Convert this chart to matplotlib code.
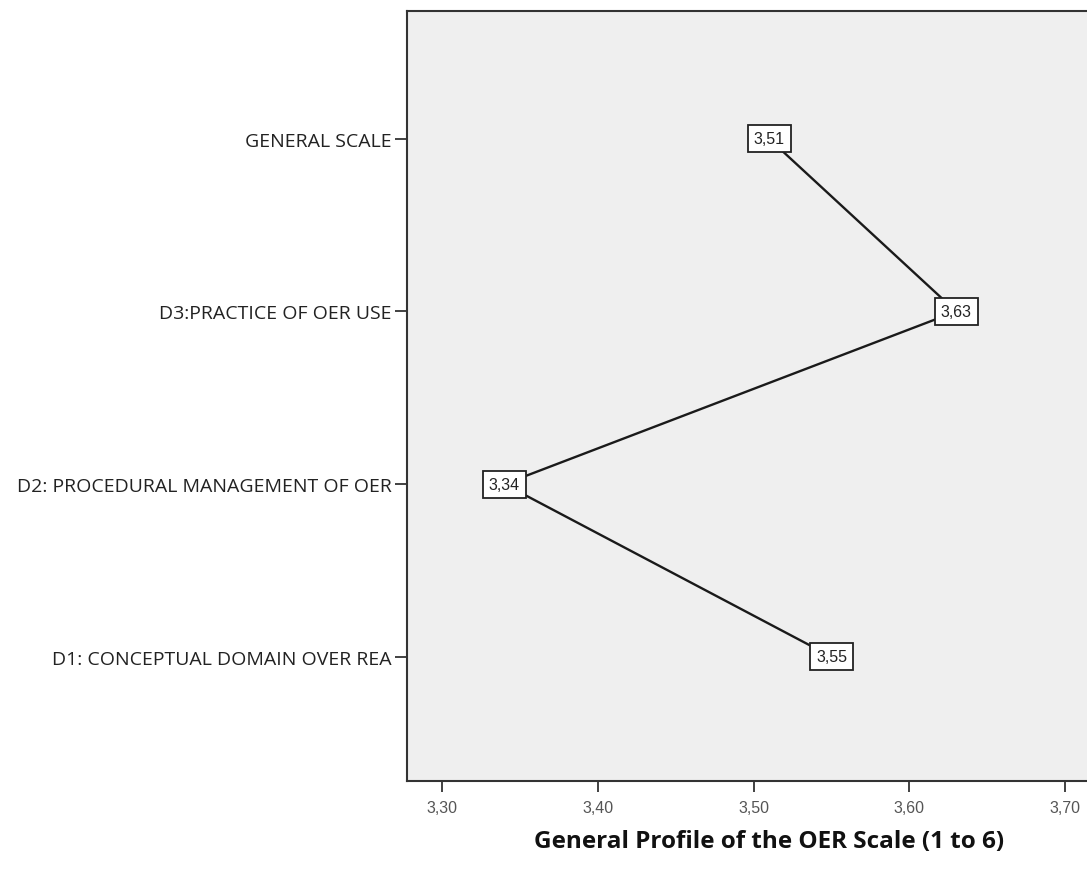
import matplotlib.pyplot as plt

# Valeurs
categories = ['D1: CONCEPTUAL DOMAIN OVER REA',
              'D2: PROCEDURAL MANAGEMENT OF OER',
              'D3:PRACTICE OF OER USE',
              'GENERAL SCALE']
moyennes = [3.55, 3.34, 3.63, 3.51]
ticks_x = [3.30, 3.40, 3.50, 3.60, 3.70]

fig = plt.figure(figsize=(10.87, 8.7), dpi=100)
ax = fig.add_axes([0.3744, 0.1011, 0.6256, 0.885])
ax.set_facecolor('#efefef')

pos = list(range(len(categories)))
ax.plot(moyennes, pos, color='#1a1a1a', lw=1.7, zorder=2)

for x, y in zip(moyennes, pos):
    ax.text(x, y, f'{x:.2f}'.replace('.', ','), ha='center', va='center',
            fontsize=11.5, family='Liberation Sans', color='#222222', zorder=3,
            bbox=dict(boxstyle='square,pad=0.38', fc='white', ec='#222222', lw=1.3))

ax.set_xlim(3.2775, 3.714)
ax.set_ylim(-0.72, 3.74)
ax.set_yticks(pos)
ax.set_yticklabels(categories, family='Open Sans', fontsize=14, color='#222222')
ax.set_xticks(ticks_x)
ax.set_xticklabels([f'{t:.2f}'.replace('.', ',') for t in ticks_x],
                   family='Liberation Sans', fontsize=11.5, color='#555555')
ax.tick_params(axis='y', length=9, width=1.3, color='#333333', pad=2)
ax.tick_params(axis='x', length=8, width=1.3, color='#333333', pad=6)

ax.spines['right'].set_visible(False)
for s in ['left', 'bottom', 'top']:
    ax.spines[s].set_linewidth(1.5)
    ax.spines[s].set_color('#333333')

ax.set_xlabel('General Profile of the OER Scale (1 to 6)', family='Open Sans',
              fontsize=17.5, fontweight='bold', color='#111111')
ax.xaxis.set_label_coords(0.532, -0.062)

plt.savefig('out.png', dpi=100)
